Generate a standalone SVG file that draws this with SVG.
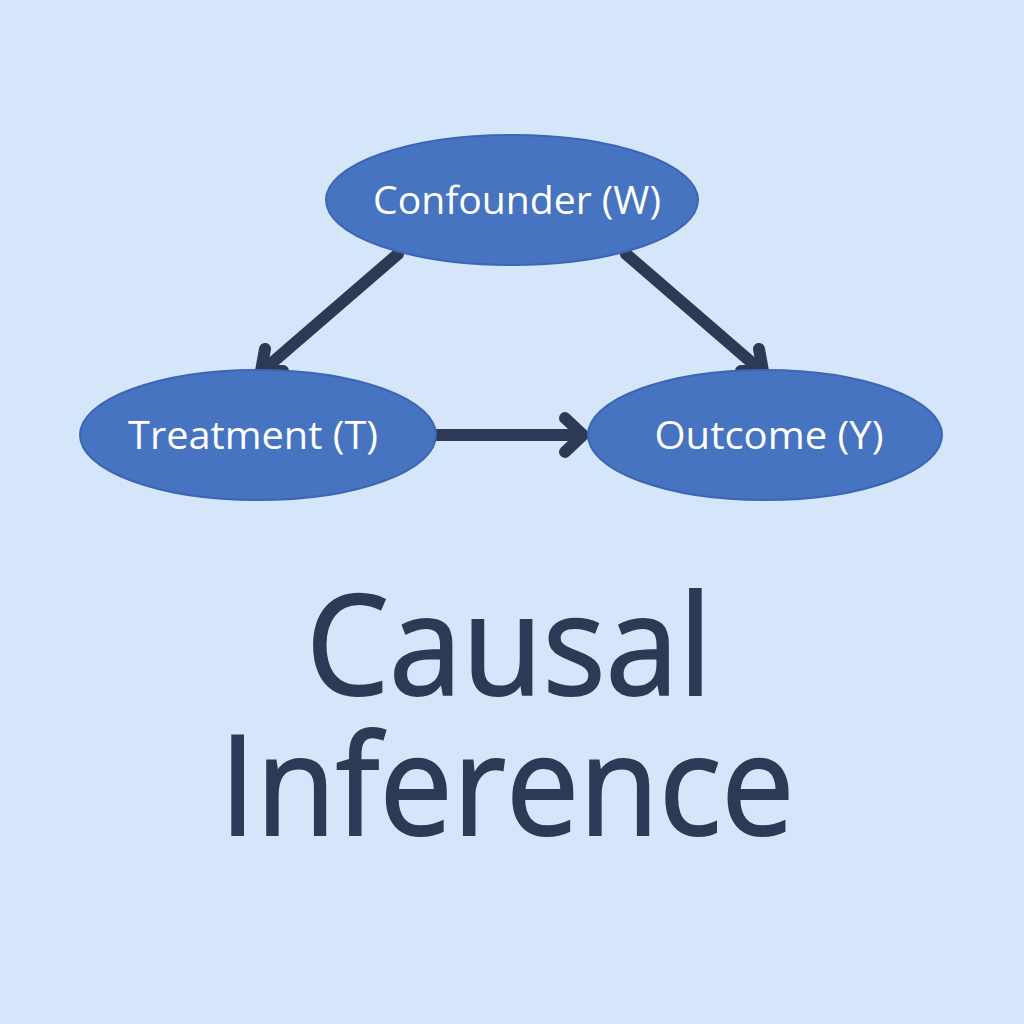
<svg xmlns="http://www.w3.org/2000/svg" width="1024" height="1024" viewBox="0 0 1024 1024">
<style>
.node{fill:#4674C0;stroke:#3A66B5;stroke-width:2}
.lbl{font-family:"Open Sans","Noto Sans",sans-serif;font-size:39px;fill:#FFFFFF;text-anchor:middle}
.edge{fill:none;stroke:#2E3A55;stroke-width:12;stroke-linecap:round;stroke-linejoin:round}
.title{font-family:"Open Sans","Noto Sans",sans-serif;font-size:140px;font-weight:500;fill:#2E3A55;stroke:#2E3A55;stroke-width:2;text-anchor:middle}
</style>
<rect width="1024" height="1024" fill="#D6E6FA"/>
<g id="connectors">
<path class="edge" d="M398 254 L266 368"/>
<path class="edge" d="M265 349 L261 371 L283 371"/>
<path class="edge" d="M626 254 L758 368"/>
<path class="edge" d="M759 349 L763 371 L741 371"/>
<path class="edge" d="M437 435 L580 435"/>
<path class="edge" d="M565 418 L583 435 L565 452"/>
</g>
<g id="node-confounder">
<ellipse class="node" cx="512" cy="200" rx="186" ry="65"/>
<text class="lbl" x="517" y="214" textLength="288" lengthAdjust="spacingAndGlyphs">Confounder (W)</text>
</g>
<g id="node-treatment">
<ellipse class="node" cx="258" cy="435" rx="178" ry="65"/>
<text class="lbl" x="253" y="449" textLength="250" lengthAdjust="spacingAndGlyphs">Treatment (T)</text>
</g>
<g id="node-outcome">
<ellipse class="node" cx="765" cy="435" rx="177" ry="65"/>
<text class="lbl" x="769" y="449" textLength="229" lengthAdjust="spacingAndGlyphs">Outcome (Y)</text>
</g>
<g id="title">
<text class="title" x="509" y="695" textLength="406" lengthAdjust="spacingAndGlyphs">Causal</text>
<text class="title" x="507" y="835" textLength="575" lengthAdjust="spacingAndGlyphs">Inference</text>
</g>
</svg>
